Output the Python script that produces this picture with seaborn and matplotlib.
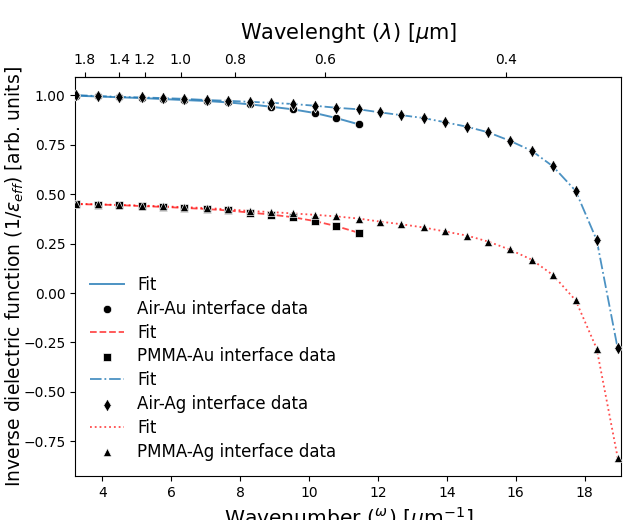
import numpy as np
import pandas as pd
import matplotlib
matplotlib.use("Agg")
import matplotlib.pyplot as plt
import seaborn as sns

# Wavenumber values (µm^-1)
k_all = [3.24, 3.89, 4.49, 5.16, 5.76, 6.37, 7.04, 7.65, 8.30, 8.91, 9.53, 10.18,
         10.79, 11.45, 12.05, 12.66, 13.33, 13.94, 14.59, 15.20, 15.82, 16.47,
         17.08, 17.74, 18.35, 18.96]
k_au = k_all[:14]

air_au = [0.997, 0.993, 0.989, 0.985, 0.980, 0.975, 0.970, 0.963, 0.953, 0.941,
          0.928, 0.909, 0.884, 0.852]
pmma_au = [0.449, 0.447, 0.444, 0.439, 0.435, 0.430, 0.424, 0.417, 0.406, 0.396,
           0.383, 0.363, 0.338, 0.304]
air_ag = [1.000, 0.995, 0.991, 0.988, 0.985, 0.981, 0.975, 0.971, 0.966, 0.961,
          0.955, 0.946, 0.936, 0.928, 0.913, 0.899, 0.884, 0.863, 0.840, 0.812,
          0.770, 0.718, 0.640, 0.516, 0.268, -0.280]
pmma_ag = [0.451, 0.448, 0.445, 0.442, 0.438, 0.434, 0.429, 0.423, 0.414, 0.409,
           0.402, 0.395, 0.387, 0.376, 0.361, 0.348, 0.331, 0.311, 0.290, 0.260,
           0.220, 0.168, 0.091, -0.037, -0.281, -0.832]

top_ticks = [1.8, 1.4, 1.2, 1.0, 0.8, 0.6, 0.4]

fig = plt.figure(figsize=(6.23, 5.2), dpi=100)
ax = fig.add_axes([0.121, 0.085, 0.876, 0.767])

blue = "#1f77b4"
red = "#ff0000"
msize = 36

sns.lineplot(x=k_au, y=air_au, ax=ax, color=blue, alpha=0.8, lw=1.4,
             sort=False, label="Fit")
sns.scatterplot(x=k_au, y=air_au, ax=ax, color="black", marker="o", s=msize,
                label="Air-Au interface data", zorder=3)
sns.lineplot(x=k_au, y=pmma_au, ax=ax, color=red, alpha=0.7, lw=1.3,
             linestyle="--", sort=False, label="Fit")
sns.scatterplot(x=k_au, y=pmma_au, ax=ax, color="black", marker="s", s=msize,
                label="PMMA-Au interface data", zorder=3)
sns.lineplot(x=k_all, y=air_ag, ax=ax, color=blue, alpha=0.8, lw=1.3,
             linestyle="-.", sort=False, label="Fit")
sns.scatterplot(x=k_all, y=air_ag, ax=ax, color="black", marker="d", s=msize + 6,
                label="Air-Ag interface data", zorder=3)
sns.lineplot(x=k_all, y=pmma_ag, ax=ax, color=red, alpha=0.7, lw=1.3,
             linestyle=":", sort=False, label="Fit")
sns.scatterplot(x=k_all, y=pmma_ag, ax=ax, color="black", marker="^", s=msize,
                label="PMMA-Ag interface data", zorder=3)

ax.set_xlim(min(k_all) - 0.02, max(k_all) + 0.1)
ax.set_yticks([-0.75, -0.5, -0.25, 0.0, 0.25, 0.5, 0.75, 1.0])
ax.tick_params(labelsize=10)
ax.set_xlabel(r"Wavenumber ($\frac{\omega}{c}$) [$\mu$m$^{-1}$]", fontsize=14.6)
ax.set_ylabel(r"Inverse dielectric function ($1/\varepsilon_{eff}$) [arb. units]",
              fontsize=13.5)
ax.yaxis.set_label_coords(-0.091, 0.5)

f = lambda x: 2 * np.pi / np.asarray(x, dtype=float)
sec = ax.secondary_xaxis("top", functions=(f, f))
sec.set_xticks(top_ticks)
sec.set_xticklabels([f"{t:.1f}" for t in top_ticks])
sec.tick_params(labelsize=10)
sec.set_xlabel(r"Wavelenght ($\lambda$) [$\mu$m]", fontsize=15, labelpad=10)

ax.legend(loc="lower left", frameon=False, fontsize=12, labelspacing=0.35)

fig.savefig("out.png", dpi=100)
